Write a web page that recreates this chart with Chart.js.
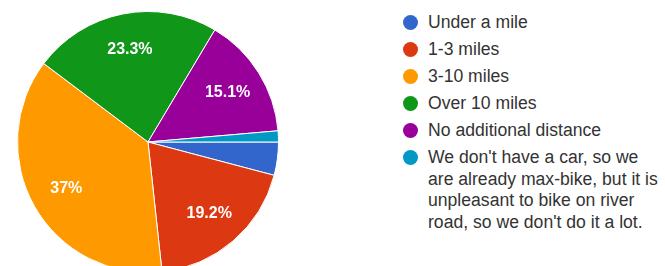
<!DOCTYPE html>
<html>
<head>
<meta charset="utf-8">
<script src="https://cdn.jsdelivr.net/npm/chart.js@4/dist/chart.umd.min.js"></script>
<style>
  html, body { margin: 0; padding: 0; background: #fff; overflow: hidden; width: 665px; height: 266px; }
  #pieBox { position: absolute; left: 17px; top: 11px; width: 262px; height: 262px; }
  #legend { position: absolute; left: 402px; top: 12px; width: 260px; font-family: "Liberation Sans", Arial, sans-serif; font-size: 17.6px; color: #333; }
  .item { position: relative; padding-left: 26px; line-height: 21.7px; margin-bottom: 5.3px; }
  .dot { position: absolute; left: 1px; top: 3px; width: 15px; height: 15px; border-radius: 50%; }
</style>
</head>
<body>
<div id="pieBox"><canvas id="myChart"></canvas></div>
<div id="legend"></div>
<script>
const labels = ['Under a mile', '1-3 miles', '3-10 miles', 'Over 10 miles', 'No additional distance',
  "We don't have a car, so we are already max-bike, but it is unpleasant to bike on river road, so we don't do it a lot."];
const counts = [3, 14, 27, 17, 11, 1];
const colors = ['#3366cc', '#dc3912', '#ff9900', '#109618', '#990099', '#0099c6'];

// percent labels inside the bigger slices
const sliceLabels = {
  id: 'sliceLabels',
  afterDatasetsDraw(chart) {
    const ctx = chart.ctx;
    const meta = chart.getDatasetMeta(0);
    const total = counts.reduce((a, b) => a + b, 0);
    ctx.save();
    ctx.font = 'bold 16px "Liberation Sans", Arial, sans-serif';
    ctx.fillStyle = '#fff';
    ctx.textAlign = 'center';
    ctx.textBaseline = 'middle';
    meta.data.forEach((arc, i) => {
      const pct = counts[i] / total * 100;
      if (pct < 5) return;
      const p = arc.getProps(['x', 'y', 'startAngle', 'endAngle', 'outerRadius'], true);
      const mid = (p.startAngle + p.endAngle) / 2;
      const r = p.outerRadius * 0.72;
      ctx.fillText(parseFloat(pct.toFixed(1)) + '%', p.x + Math.cos(mid) * r, p.y + Math.sin(mid) * r);
    });
    ctx.restore();
  }
};

const ctx = document.getElementById('myChart');

let pie = new Chart(ctx, {
  type: 'pie',
  data: {
    labels: labels,
    datasets: [{
      data: counts,
      backgroundColor: colors,
      borderColor: '#fff',
      borderWidth: 1,
      hoverOffset: 0
    }]
  },
  options: {
    responsive: true,
    maintainAspectRatio: false,
    animation: false,
    rotation: 90,
    plugins: {
      legend: { display: false },
      tooltip: { enabled: false }
    }
  },
  plugins: [sliceLabels]
});

// html legend, the long label has to wrap
const legend = document.getElementById('legend');
labels.forEach((l, i) => {
  const d = document.createElement('div');
  d.className = 'item';
  d.innerHTML = '<span class="dot" style="background:' + colors[i] + '"></span>';
  d.appendChild(document.createTextNode(l));
  legend.appendChild(d);
});
</script>
</body>
</html>
